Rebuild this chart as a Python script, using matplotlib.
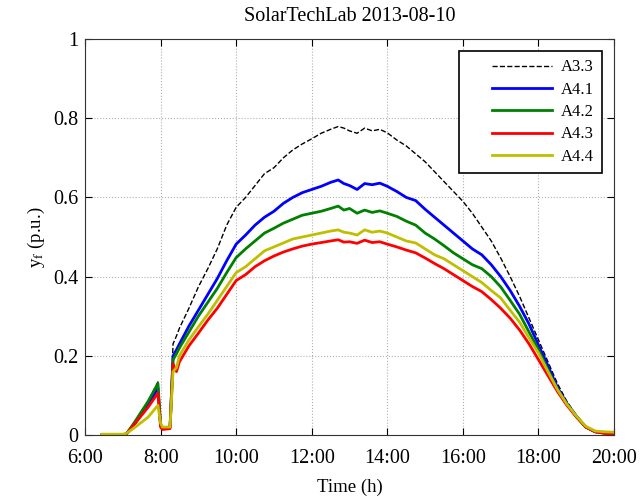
import numpy as np
import matplotlib
matplotlib.use('Agg')
import matplotlib.pyplot as plt
from matplotlib.legend_handler import HandlerLine2D

plt.rcParams['font.family'] = 'Liberation Serif'
plt.rcParams['mathtext.fontset'] = 'stix'

# time of day in hours
t = [6.45, 7.0, 7.1, 7.33, 7.67, 7.93, 8.0, 8.05, 8.25, 8.33, 8.42, 8.5, 8.75,
     9.0, 9.25, 9.5, 9.75, 10.0, 10.25, 10.5, 10.75, 11.0, 11.25, 11.5, 11.75,
     12.0, 12.25, 12.5, 12.7, 12.85, 13.0, 13.2, 13.4, 13.6, 13.8, 14.0, 14.25,
     14.5, 14.75, 15.0, 15.25, 15.5, 15.75, 16.0, 16.25, 16.5, 16.75, 17.0,
     17.25, 17.5, 17.75, 18.0, 18.25, 18.5, 18.75, 19.0, 19.25, 19.5, 19.75, 20.0]

a33 = [0, 0, 0.003, 0.035, 0.085, 0.134, 0.03, 0.018, 0.02, 0.23, 0.25, 0.27, 0.32,
       0.374, 0.42, 0.47, 0.53, 0.575, 0.60, 0.63, 0.66, 0.675, 0.70, 0.72, 0.735,
       0.748, 0.762, 0.772, 0.779, 0.775, 0.768, 0.762, 0.775, 0.768, 0.772, 0.763, 0.745,
       0.73, 0.71, 0.69, 0.665, 0.64, 0.615, 0.59, 0.56, 0.525, 0.49, 0.447,
       0.40, 0.35, 0.295, 0.24, 0.185, 0.13, 0.085, 0.05, 0.022, 0.01, 0.006, 0.004]

a41 = [0, 0, 0.003, 0.03, 0.075, 0.12, 0.025, 0.015, 0.02, 0.2, 0.215, 0.23, 0.275,
       0.315, 0.355, 0.395, 0.44, 0.482, 0.505, 0.53, 0.55, 0.565, 0.585, 0.60, 0.612,
       0.62, 0.628, 0.638, 0.644, 0.635, 0.630, 0.620, 0.635, 0.632, 0.636, 0.628, 0.615,
       0.60, 0.592, 0.57, 0.55, 0.53, 0.51, 0.49, 0.47, 0.455, 0.43, 0.40,
       0.365, 0.325, 0.28, 0.227, 0.175, 0.12, 0.08, 0.048, 0.02, 0.008, 0.005, 0.004]

a42 = [0, 0, 0.003, 0.035, 0.085, 0.13, 0.025, 0.016, 0.02, 0.19, 0.205, 0.22, 0.26,
       0.30, 0.335, 0.37, 0.41, 0.448, 0.47, 0.49, 0.51, 0.522, 0.535, 0.545, 0.555,
       0.56, 0.565, 0.572, 0.578, 0.568, 0.572, 0.56, 0.568, 0.562, 0.566, 0.56, 0.552,
       0.54, 0.53, 0.51, 0.495, 0.478, 0.46, 0.445, 0.43, 0.42, 0.40, 0.374,
       0.34, 0.305, 0.26, 0.215, 0.165, 0.115, 0.078, 0.046, 0.02, 0.008, 0.005, 0.004]

a43 = [0, 0, 0.003, 0.03, 0.07, 0.106, 0.02, 0.014, 0.016, 0.18, 0.16, 0.185, 0.225,
       0.257, 0.29, 0.32, 0.355, 0.39, 0.405, 0.425, 0.44, 0.452, 0.462, 0.47, 0.477,
       0.482, 0.486, 0.49, 0.493, 0.487, 0.488, 0.484, 0.492, 0.486, 0.488, 0.482, 0.475,
       0.467, 0.46, 0.447, 0.433, 0.42, 0.405, 0.39, 0.375, 0.362, 0.342, 0.32,
       0.295, 0.265, 0.23, 0.19, 0.15, 0.11, 0.075, 0.046, 0.02, 0.008, 0.004, 0.003]

a44 = [0.002, 0.002, 0.004, 0.02, 0.045, 0.075, 0.03, 0.02, 0.02, 0.16, 0.17, 0.2, 0.24,
       0.273, 0.305, 0.34, 0.375, 0.41, 0.425, 0.445, 0.465, 0.475, 0.485, 0.495, 0.50,
       0.505, 0.51, 0.515, 0.518, 0.512, 0.51, 0.505, 0.518, 0.512, 0.515, 0.51, 0.50,
       0.49, 0.485, 0.47, 0.455, 0.445, 0.43, 0.415, 0.40, 0.385, 0.365, 0.346,
       0.315, 0.285, 0.245, 0.207, 0.16, 0.115, 0.078, 0.048, 0.022, 0.01, 0.008, 0.007]

xticks = [6, 8, 10, 12, 14, 16, 18, 20]
xticklabels = ['6:00', '8:00', '10:00', '12:00', '14:00', '16:00', '18:00', '20:00']
yticks = [0, 0.2, 0.4, 0.6, 0.8, 1]
yticklabels = ['0', '0.2', '0.4', '0.6', '0.8', '1']

fig = plt.figure(figsize=(6.41, 4.99), dpi=100)
ax = fig.add_axes([0.1326, 0.1283, 0.8254, 0.7935])

ax.plot(t, a33, 'k--', lw=1.0, label='A3.3')
ax.plot(t, a41, color=(0, 0, 1), lw=2, label='A4.1')
ax.plot(t, a42, color=(0, 0.5, 0), lw=2, label='A4.2')
ax.plot(t, a43, color=(1, 0, 0), lw=2, label='A4.3')
ax.plot(t, a44, color=(0.75, 0.75, 0), lw=2, label='A4.4')

ax.set_xlim(6, 20)
ax.set_ylim(0, 1)
ax.set_xticks(xticks)
ax.set_xticklabels(xticklabels)
ax.set_yticks(yticks)
ax.set_yticklabels(yticklabels)
ax.tick_params(direction='in', top=True, right=True, labelsize=14.5, length=5)
ax.tick_params(axis='x', pad=10)
ax.tick_params(axis='y', pad=5)
ax.grid(True, linestyle=':', color='#b0b0b0', lw=0.8)
for s in ax.spines.values():
    s.set_color('#333333')

ax.set_title('SolarTechLab 2013-08-10', fontsize=14.5, pad=13)
ax.set_xlabel('Time (h)', fontsize=13.5, labelpad=8)
ax.set_ylabel(r'y$_\mathrm{f}$ (p.u.)', fontsize=13.5, labelpad=4)

leg = ax.legend(loc='upper right', fontsize=12, fancybox=False, framealpha=1,
                edgecolor='k', handlelength=5.1, handletextpad=0.5,
                borderpad=0.5, borderaxespad=0.72, labelspacing=0.38,
                handler_map={plt.Line2D: HandlerLine2D(xpad=1.45)})
leg.get_frame().set_linewidth(1.2)

fig.savefig('out.png', dpi=100)
